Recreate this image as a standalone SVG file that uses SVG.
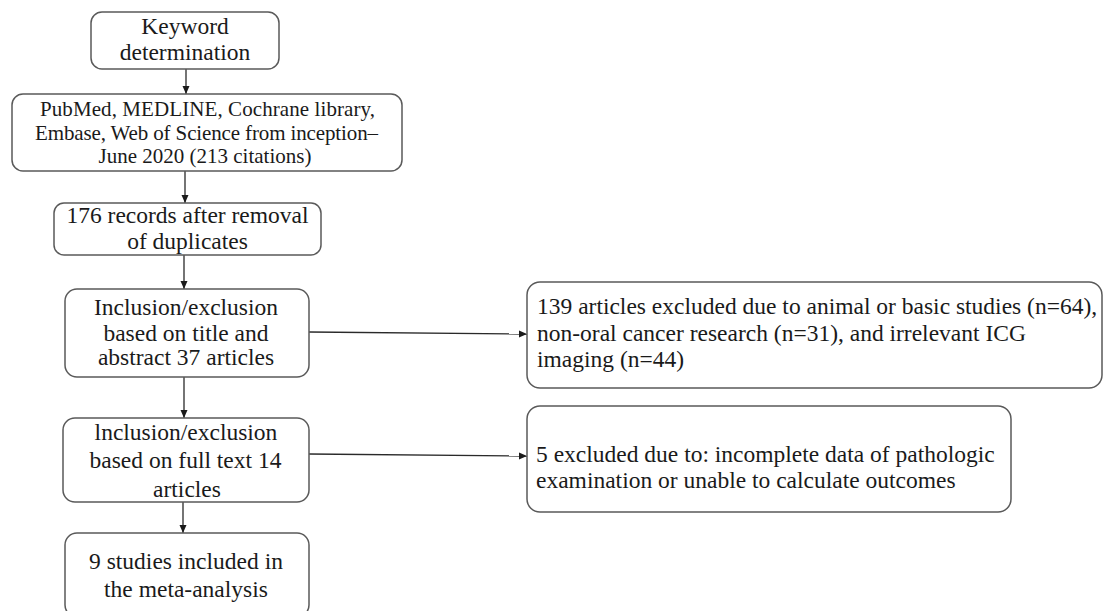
<svg xmlns="http://www.w3.org/2000/svg" width="1103" height="611" viewBox="0 0 1103 611">
<style>
.box{fill:#ffffff;stroke:#5a5a5a;stroke-width:1.5}
.t{font-family:"Liberation Serif","Times New Roman",serif;font-size:23.5px;fill:#1a1a1a}
.s{font-size:21px}
.c{text-anchor:middle}
.ln{stroke:#2a2a2a;stroke-width:1.3;fill:none}
</style>
<defs>
<marker id="ah" markerUnits="userSpaceOnUse" markerWidth="9" markerHeight="8" refX="8" refY="4" orient="auto">
<path d="M0,0.5 L8,4 L0,7.5 z" fill="#1a1a1a"/>
</marker>
</defs>
<rect width="1103" height="611" fill="#ffffff"/>
<g id="connectors">
<line class="ln" x1="186" y1="69" x2="186" y2="94" marker-end="url(#ah)"/>
<line class="ln" x1="185" y1="171" x2="185" y2="203" marker-end="url(#ah)"/>
<line class="ln" x1="184" y1="255" x2="184" y2="289" marker-end="url(#ah)"/>
<line class="ln" x1="184" y1="377" x2="184" y2="418" marker-end="url(#ah)"/>
<line class="ln" x1="183" y1="502" x2="183" y2="533" marker-end="url(#ah)"/>
<line class="ln" x1="309" y1="332" x2="527" y2="334" marker-end="url(#ah)"/>
<line class="ln" x1="309" y1="454" x2="527" y2="456" marker-end="url(#ah)"/>
</g>
<g id="keyword">
<rect class="box" x="91" y="12" width="188" height="57" rx="11"/>
<text class="t c" x="185" y="34">Keyword</text>
<text class="t c" x="185" y="60">determination</text>
</g>
<g id="databases">
<rect class="box" x="12" y="94" width="390" height="77" rx="11"/>
<text class="t s c" x="207.5" y="116" textLength="335" lengthAdjust="spacing">PubMed, MEDLINE,  Cochrane library,</text>
<text class="t s c" x="206.5" y="140" textLength="343" lengthAdjust="spacing">Embase, Web of Science from inception–</text>
<text class="t s c" x="205" y="163">June 2020 (213 citations)</text>
</g>
<g id="duplicates">
<rect class="box" x="54" y="203" width="267" height="52" rx="10"/>
<text class="t c" x="187.5" y="223">176 records after removal</text>
<text class="t c" x="187.5" y="249">of duplicates</text>
</g>
<g id="screening">
<rect class="box" x="65" y="289" width="244" height="88" rx="12"/>
<text class="t c" x="186" y="315">Inclusion/exclusion</text>
<text class="t c" x="186" y="341">based on title  and</text>
<text class="t c" x="186" y="365">abstract 37 articles</text>
</g>
<g id="excluded1">
<rect class="box" x="527" y="282" width="575" height="106" rx="13"/>
<text class="t" x="537" y="314">139 articles excluded due to animal or basic studies (n=64),</text>
<text class="t" x="537" y="341">non-oral cancer research (n=31), and irrelevant ICG</text>
<text class="t" x="537" y="367">imaging (n=44)</text>
</g>
<g id="fulltext">
<rect class="box" x="63" y="418" width="246" height="84" rx="12"/>
<text class="t c" x="186" y="440">lnclusion/exclusion</text>
<text class="t c" x="185.5" y="468">based on full text  14</text>
<text class="t c" x="187" y="497">articles</text>
</g>
<g id="excluded2">
<rect class="box" x="527" y="406" width="484" height="106" rx="13"/>
<text class="t" x="536" y="462">5 excluded due to: incomplete data of pathologic</text>
<text class="t" x="536" y="488">examination or unable to calculate outcomes</text>
</g>
<g id="included">
<rect class="box" x="65" y="533" width="244" height="84" rx="12"/>
<text class="t c" x="186" y="569">9 studies included in</text>
<text class="t c" x="186" y="597">the meta-analysis</text>
</g>
</svg>
